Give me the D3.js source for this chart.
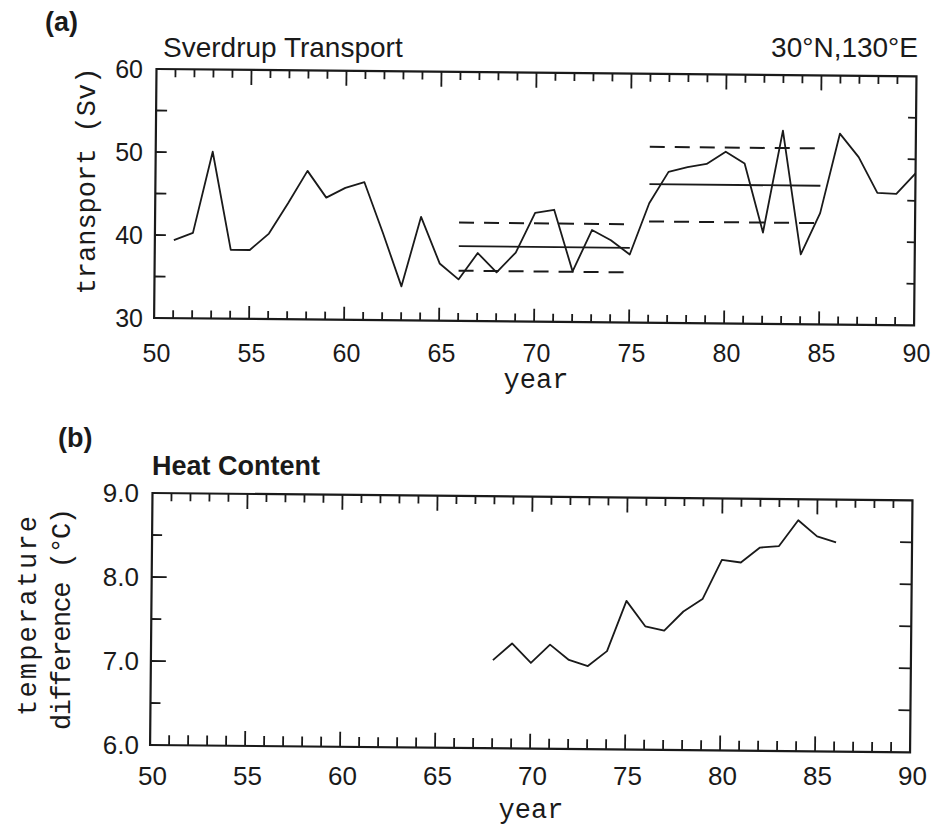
<!DOCTYPE html>
<html><head><meta charset="utf-8">
<script src="https://cdn.jsdelivr.net/npm/d3@7"></script>
<style>body{margin:0;background:#fff}</style>
</head><body>
<svg id="c" width="935" height="829"></svg>
<script>
// ---- data ----
const years = d3.range(51, 91);
const transport = [39.4,40.3,50.1,38.3,38.3,40.3,44.0,47.9,44.7,45.9,
                   46.6,40.5,34.1,42.5,36.9,35.0,38.2,35.9,38.3,43.1,
                   43.5,36.1,41.1,39.9,38.2,44.4,48.2,48.8,49.2,50.7,
                   49.3,41.0,53.3,38.4,43.4,53.0,50.2,45.9,45.8,48.3];
const heatYears = d3.range(68, 87);
const heat = [7.05,7.25,7.02,7.24,7.06,6.99,7.17,7.77,7.47,7.42,
              7.65,7.80,8.27,8.24,8.42,8.44,8.75,8.56,8.49];
const periodStart = [66, 76];
const periodEnd = [75, 85];
const periodMean = [39.0, 46.7];
const periodUpper = [41.85, 51.2];
const periodLower = [36.05, 42.2];
const yearTicks = [50,55,60,65,70,75,80,85,90];
const transportTicks = [30,40,50,60];
const heatTicks = [6.0,7.0,8.0,9.0];

const svg = d3.select("#c");
const ink = "#1a1a1a";
const tilt = 0.55;
const sans = "'Liberation Sans', Arial, sans-serif";
const mono = "'Liberation Mono', 'DejaVu Sans Mono', monospace";

function panel(opt){
  const X0 = +opt.x0, Y0 = +opt.y0, W = +opt.w, H = +opt.h;
  const x = d3.scaleLinear().domain([50,90]).range([X0, X0+W]);
  const y = d3.scaleLinear().domain(opt.ydom).range([Y0+H, Y0]);
  const g = svg.append("g").attr("transform", `rotate(${tilt},${X0},${Y0})`);
  const minorYears = d3.range(51,90).filter(v => v%5 !== 0);
  const majorYears = yearTicks.filter(v => v>50 && v<90);
  const YB = Y0+H, XR = X0+W;
  g.append("rect").attr("x",X0).attr("y",Y0).attr("width",W).attr("height",H)
    .attr("fill","none").attr("stroke",ink).attr("stroke-width",2.2);
  // bottom ticks
  g.append("g").selectAll("line").data(minorYears).join("line")
    .attr("x1",d=>x(d)).attr("x2",d=>x(d)).attr("y1",YB).attr("y2",YB-opt.bMinor)
    .attr("stroke",ink).attr("stroke-width",1.8);
  g.append("g").selectAll("line").data(majorYears).join("line")
    .attr("x1",d=>x(d)).attr("x2",d=>x(d)).attr("y1",YB).attr("y2",YB-opt.bMajor)
    .attr("stroke",ink).attr("stroke-width",1.8);
  // top ticks
  g.append("g").selectAll("line").data(minorYears).join("line")
    .attr("x1",d=>x(d)).attr("x2",d=>x(d)).attr("y1",Y0).attr("y2",Y0+opt.tMinor)
    .attr("stroke",ink).attr("stroke-width",1.8);
  g.append("g").selectAll("line").data(majorYears).join("line")
    .attr("x1",d=>x(d)).attr("x2",d=>x(d)).attr("y1",Y0).attr("y2",Y0+opt.tMajor)
    .attr("stroke",ink).attr("stroke-width",1.8);
  // left ticks
  g.append("g").selectAll("line").data(opt.yMinorTicks).join("line")
    .attr("y1",d=>y(d)).attr("y2",d=>y(d)).attr("x1",X0).attr("x2",X0+opt.lMinor)
    .attr("stroke",ink).attr("stroke-width",1.8);
  g.append("g").selectAll("line").data(opt.yMajorTicks).join("line")
    .attr("y1",d=>y(d)).attr("y2",d=>y(d)).attr("x1",X0).attr("x2",X0+opt.lMajor)
    .attr("stroke",ink).attr("stroke-width",1.8);
  // right ticks
  g.append("g").selectAll("line").data(opt.yMinorTicks.concat(opt.yMajorTicks)).join("line")
    .attr("y1",d=>y(d)).attr("y2",d=>y(d)).attr("x1",XR).attr("x2",XR-opt.rLen)
    .attr("stroke",ink).attr("stroke-width",1.8);
  // tick labels (level, not tilted)
  svg.append("g").selectAll("text").data(yearTicks).join("text")
    .attr("x", d => x(d)).attr("y", opt.xLabY).attr("text-anchor","middle")
    .attr("font-family",sans).attr("font-size",opt.tickFs).attr("fill",ink).text(d => d);
  svg.append("g").selectAll("text").data(opt.yLabels).join("text")
    .attr("x", opt.yLabX).attr("y", d => y(d)).attr("dy","0.36em").attr("text-anchor","end")
    .attr("font-family",sans).attr("font-size",opt.tickFs).attr("fill",ink).text(opt.yFmt);
  return {x,y,g};
}

// ---- panel (a) ----
const A = panel({x0:156.5,y0:69,w:760,h:249,ydom:[30,60],
  bMinor:8,bMajor:13,tMinor:8,tMajor:15,lMinor:11,lMajor:11,rLen:8,
  yMinorTicks:[35,45,55], yMajorTicks:[40,50],
  xLabY:362, yLabX:143, tickFs:25, yLabels:transportTicks, yFmt:d=>d});
const lineA = d3.line().x((d,i)=>A.x(years[i])).y(d=>A.y(d));
A.g.append("path").attr("d",lineA(transport)).attr("fill","none").attr("stroke",ink).attr("stroke-width",1.8).attr("stroke-linejoin","round");
periodStart.forEach((s,i)=>{
  const e = periodEnd[i];
  A.g.append("line").attr("x1",A.x(s)).attr("x2",A.x(e)).attr("y1",A.y(periodMean[i])).attr("y2",A.y(periodMean[i]))
    .attr("stroke",ink).attr("stroke-width",1.8);
  [periodUpper[i], periodLower[i]].forEach(v=>{
    A.g.append("line").attr("x1",A.x(s)).attr("x2",A.x(e)).attr("y1",A.y(v)).attr("y2",A.y(v))
      .attr("stroke",ink).attr("stroke-width",2).attr("stroke-dasharray","15,10");
  });
});

// ---- panel (b) ----
const B = panel({x0:152.5,y0:493,w:760,h:252,ydom:[6,9],
  bMinor:10,bMajor:15,tMinor:8,tMajor:15,lMinor:10,lMajor:15,rLen:12,
  yMinorTicks:[6.5,7.5,8.5], yMajorTicks:[7,8],
  xLabY:785, yLabX:139, tickFs:26, yLabels:heatTicks, yFmt:d=>d.toFixed(1)});
const lineB = d3.line().x((d,i)=>B.x(heatYears[i])).y(d=>B.y(d));
B.g.append("path").attr("d",lineB(heat)).attr("fill","none").attr("stroke",ink).attr("stroke-width",1.8).attr("stroke-linejoin","round");

// ---- texts ----
function txt(x,y,s,o){
  const t = svg.append("text").attr("x",x).attr("y",y).text(s).attr("fill",ink)
    .attr("font-family",o.f||sans).attr("font-size",o.fs).attr("font-weight",o.b?"bold":"normal")
    .attr("text-anchor",o.a||"start");
  if (o.rot) t.attr("transform",`rotate(-90,${x},${y})`);
  if (o.len) t.attr("textLength",o.len);
  return t;
}
txt(45,31,"(a)",{fs:27,b:true});
txt(163,57,"Sverdrup Transport",{fs:28});
txt(918,57,"30°N,130°E",{fs:28,a:"end"});
txt(536,388,"year",{fs:27,f:mono,a:"middle"});
txt(95,181,"transport (Sv)",{fs:27,f:mono,a:"middle",rot:true});

txt(58,447,"(b)",{fs:27,b:true});
txt(152,475,"Heat Content",{fs:27,b:true});
txt(531,818,"year",{fs:27,f:mono,a:"middle"});
txt(36,616,"temperature",{fs:27,f:mono,a:"middle",rot:true,len:200});
txt(70,619,"difference (°C)",{fs:27,f:mono,a:"middle",rot:true,len:222});
</script>
</body></html>
